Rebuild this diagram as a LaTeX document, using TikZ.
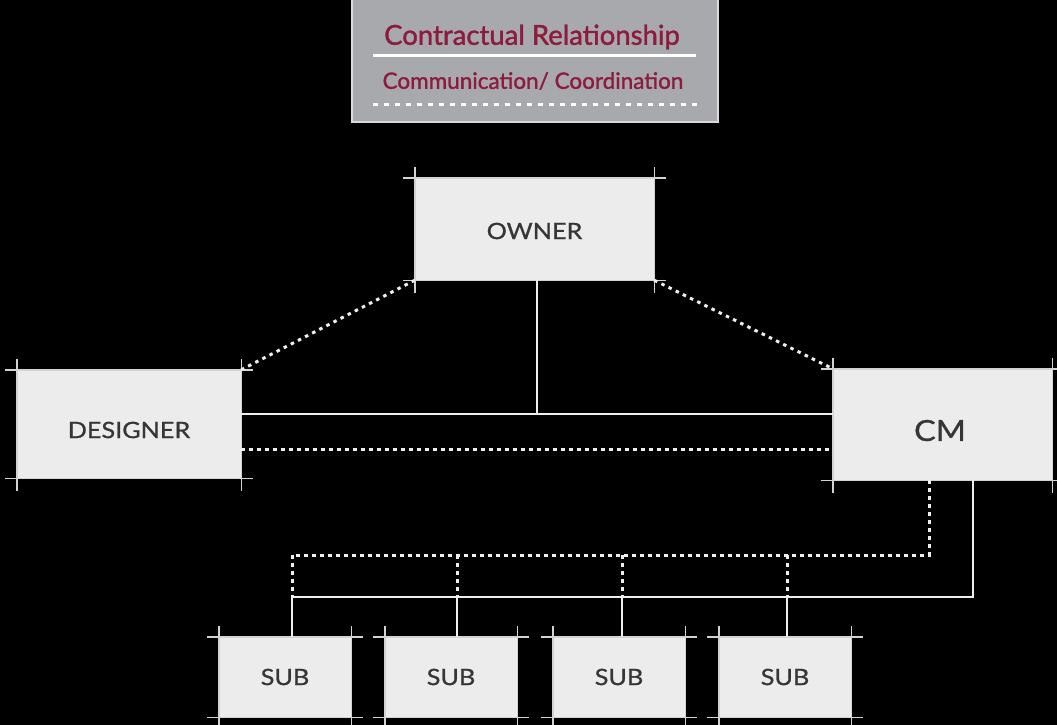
\documentclass[tikz,border=0pt]{standalone}
\usepackage{fontspec}
\setmainfont{Lato}
\newfontfamily\partyfont[FakeStretch=1.12,FakeBold=0.9]{Lato}
\newfontfamily\legendfont[FakeBold=1.4]{Lato}
\usetikzlibrary{calc}
\definecolor{boxfill}{HTML}{EBECEB}
\definecolor{boxtext}{HTML}{363636}
\definecolor{linewhite}{HTML}{EEEEEE}
\definecolor{cropgrey}{HTML}{D2D3D3}
\definecolor{legendfill}{HTML}{A7A9AC}
\definecolor{legendedge}{HTML}{DADADA}
\definecolor{legendred}{HTML}{8E1B3E}
% shift a label down without changing its box size
\newcommand{\lowered}[2]{\raisebox{-#1}[\height][\depth]{#2}}
\begin{document}
\begin{tikzpicture}[x=1pt,y=-1pt,
  party/.style={fill=boxfill, inner sep=0pt, text=boxtext,
    font=\partyfont\fontsize{22.5}{22.5}\selectfont},
  subbox/.style={party, minimum width=132pt, minimum height=80pt},
  contract/.style={draw=linewhite, line width=2.8pt},
  coord/.style={draw=linewhite, line width=3pt, dash pattern=on 3.5pt off 4.5pt},
  cropline/.style={draw=cropgrey, line width=1.4pt},
  legendbox/.style={fill=legendfill, draw=legendedge, line width=1.5pt, inner sep=0pt},
  legendtext/.style={text=legendred, inner sep=0pt}]

% page and background
\fill[black] (0,0) rectangle (1057,725);
\useasboundingbox (0,0) rectangle (1057,725);

% legend
\node[legendbox, minimum width=366pt, minimum height=126pt] (legend) at (535,59) {};
\node[legendtext, font=\legendfont\fontsize{27.5}{27.5}\selectfont] (legcontract) at (532,37) {Contractual Relationship};
\node[legendtext, font=\legendfont\fontsize{22.5}{22.5}\selectfont] (legcomm) at (533,81) {Communication/ Coordination};
\coordinate (ls1) at (373,56);
\coordinate (ls2) at (696,56);
\coordinate (ld1) at (373,104);
\coordinate (ld2) at (700,104);
\draw[contract, draw=white, line width=3pt] (ls1) -- (ls2);
\draw[coord, draw=white, dash pattern=on 5pt off 6pt] (ld1) -- (ld2);

% parties
\node[party, minimum width=239pt, minimum height=102pt] (owner) at (534.5,229) {\lowered{2pt}{OWNER}};
\node[party, minimum width=224pt, minimum height=108pt] (designer) at (129,424) {\lowered{6pt}{DESIGNER}};
\node[party, minimum width=219pt, minimum height=111pt,
  font=\partyfont\fontsize{29}{29}\selectfont] (cm) at (942.5,424.5) {\hspace*{-5pt}\lowered{6pt}{CM}};
\node[subbox] (sub1) at (285,677) {SUB};
\node[subbox] (sub2) at (451,677) {SUB};
\node[subbox] (sub3) at (619,677) {SUB};
\node[subbox] (sub4) at (785,677) {SUB};

% extended box edges
\foreach \n in {owner,designer,cm,sub1,sub2,sub3,sub4}{
  \draw[cropline] ($(\n.north west)+(-12,0)$) -- ($(\n.north east)+(12,0)$);
  \draw[cropline] ($(\n.south west)+(-12,0)$) -- ($(\n.south east)+(12,0)$);
  \draw[cropline] ($(\n.north west)+(0,-11)$) -- ($(\n.south west)+(0,13)$);
  \draw[cropline] ($(\n.north east)+(0,-11)$) -- ($(\n.south east)+(0,13)$);
}

% owner links
\coordinate (ownerdrop) at (537,414);
\draw[contract] (owner.south -| ownerdrop) -- (ownerdrop);
\draw[contract] (designer.east |- ownerdrop) -- (cm.west |- ownerdrop);
\coordinate (dclevel) at (0,449);
\draw[coord] (designer.east |- dclevel) -- (cm.west |- dclevel);
\draw[coord] (owner.south west) -- (designer.north east);
\draw[coord] (owner.south east) -- (cm.north west);

% cm to subcontractors
\coordinate (cmdot) at (929,555);
\coordinate (cmsolid) at (973,597);
\coordinate (b1) at (292,0);
\coordinate (b2) at (457,0);
\coordinate (b3) at (622,0);
\coordinate (b4) at (787,0);
\draw[coord] (cm.south -| cmdot) -- (cmdot) -- (b1 |- cmdot) -- (b1 |- cmsolid);
\foreach \b in {b2,b3,b4}
  \draw[coord] (\b |- cmdot) -- (\b |- cmsolid);
\draw[contract] (cm.south -| cmsolid) -- (cmsolid) -- (b1 |- cmsolid) -- (b1 |- sub1.north);
\draw[contract] (b2 |- cmsolid) -- (b2 |- sub2.north);
\draw[contract] (b3 |- cmsolid) -- (b3 |- sub3.north);
\draw[contract] (b4 |- cmsolid) -- (b4 |- sub4.north);
\end{tikzpicture}
\end{document}
